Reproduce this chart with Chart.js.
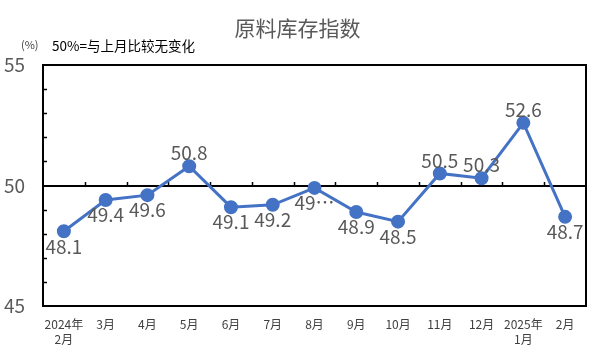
<!DOCTYPE html>
<html>
<head>
<meta charset="utf-8">
<script src="https://cdn.jsdelivr.net/npm/chart.js@4.4.0/dist/chart.umd.min.js"></script>
<style>
  html, body { margin: 0; padding: 0; background: #fff; }
  #wrap { width: 591px; height: 354px; }
</style>
</head>
<body>
<div id="wrap"><canvas id="myChart"></canvas></div>
<script>
// data
const months = [["2024年", "2月"], "3月", "4月", "5月", "6月", "7月", "8月", "9月", "10月", "11月", "12月", ["2025年", "1月"], "2月"];
const stockIndex = [48.1, 49.4, 49.6, 50.8, 49.1, 49.2, 49.9, 48.9, 48.5, 50.5, 50.3, 52.6, 48.7];
const yTicks = [45, 50, 55];

// label text as shown (the 8月 one is clipped in the original)
const labelText = stockIndex.map((v) => v.toFixed(1));
labelText[6] = "49…";
// where each value label sits
const labelSide = ["below", "below", "below", "above", "below", "below", "below", "below", "below", "above", "above", "above", "below"];

const FONT = "'Noto Sans CJK SC', 'Noto Sans', sans-serif";
const BLUE = "#4472C4";

const framePlugin = {
  id: "frame",
  beforeDatasetsDraw(chart) {
    const { ctx, chartArea: a, scales } = chart;
    const x = scales.x;
    const y = scales.y;
    ctx.save();
    ctx.strokeStyle = "#000";
    ctx.lineWidth = 2;
    ctx.strokeRect(a.left, a.top, a.right - a.left, a.bottom - a.top);

    // 50 reference line
    const y50 = Math.round(y.getPixelForValue(50));
    ctx.beginPath();
    ctx.moveTo(a.left, y50);
    ctx.lineTo(a.right, y50);
    ctx.stroke();

    // category boundary ticks on the 50 line
    ctx.lineWidth = 1.5;
    const half = (x.getPixelForValue(1) - x.getPixelForValue(0)) / 2;
    for (let i = 1; i < months.length; i++) {
      const px = Math.round(x.getPixelForValue(i) - half) + 0.5;
      ctx.beginPath();
      ctx.moveTo(px, y50);
      ctx.lineTo(px, y50 - 4);
      ctx.stroke();
    }

    // minor ticks inside the y axis
    for (let v = 46; v < 55; v++) {
      if (v === 50) continue;
      const py = Math.round(y.getPixelForValue(v)) + 0.5;
      ctx.beginPath();
      ctx.moveTo(a.left, py);
      ctx.lineTo(a.left + 4, py);
      ctx.stroke();
    }
    ctx.restore();
  },
  afterDatasetsDraw(chart) {
    const { ctx } = chart;
    const meta = chart.getDatasetMeta(0);
    ctx.save();
    ctx.font = "19px " + FONT;
    ctx.fillStyle = "#595959";
    ctx.textAlign = "center";
    ctx.textBaseline = "middle";
    meta.data.forEach((pt, i) => {
      const dy = labelSide[i] === "above" ? -13 : 15;
      ctx.fillText(labelText[i], pt.x, pt.y + dy);
    });
    ctx.restore();
  },
  afterDraw(chart) {
    const { ctx } = chart;
    ctx.save();
    ctx.textBaseline = "middle";
    ctx.textAlign = "center";
    ctx.fillStyle = "#595959";
    ctx.font = "21px " + FONT;
    ctx.fillText("原料库存指数", chart.width / 2 + 2, 28);

    ctx.textAlign = "left";
    ctx.fillStyle = "#404040";
    ctx.font = "11px " + FONT;
    ctx.fillText("(%)", 21, 45);
    ctx.fillStyle = "#000";
    ctx.font = "13.5px " + FONT;
    ctx.fillText("50%=与上月比较无变化", 52, 46);
    ctx.restore();
  }
};

const ctx = document.getElementById("myChart");

new Chart(ctx, {
  type: "line",
  data: {
    labels: months,
    datasets: [
      {
        data: stockIndex,
        borderColor: BLUE,
        backgroundColor: BLUE,
        borderWidth: 3,
        pointRadius: 5.5,
        pointHoverRadius: 5.5,
        tension: 0,
      },
    ],
  },
  options: {
    responsive: true,
    maintainAspectRatio: false,
    animation: false,
    devicePixelRatio: 1,
    layout: { autoPadding: false, padding: { top: 65, right: 5, left: 0, bottom: 0 } },
    plugins: {
      legend: { display: false },
      title: { display: false },
      tooltip: { enabled: false },
    },
    scales: {
      x: {
        offset: true,
        grid: { display: false, drawTicks: false },
        border: { display: false },
        ticks: {
          autoSkip: false,
          maxRotation: 0,
          padding: 11,
          color: "#404040",
          font: { family: FONT, size: 12, lineHeight: 1.25 },
        },
        afterFit(axis) {
          axis.height = 48;
          axis.paddingLeft = 0;
          axis.paddingRight = 0;
        },
      },
      y: {
        min: 45,
        max: 55,
        afterBuildTicks(axis) {
          axis.ticks = yTicks.map((v) => ({ value: v }));
        },
        grid: { display: false, drawTicks: false },
        border: { display: false },
        ticks: {
          padding: 18,
          color: "#595959",
          font: { family: FONT, size: 19 },
        },
        afterFit(axis) {
          axis.width = 43;
          axis.paddingTop = 0;
          axis.paddingBottom = 0;
        },
      },
    },
  },
  plugins: [framePlugin],
});
</script>
</body>
</html>
